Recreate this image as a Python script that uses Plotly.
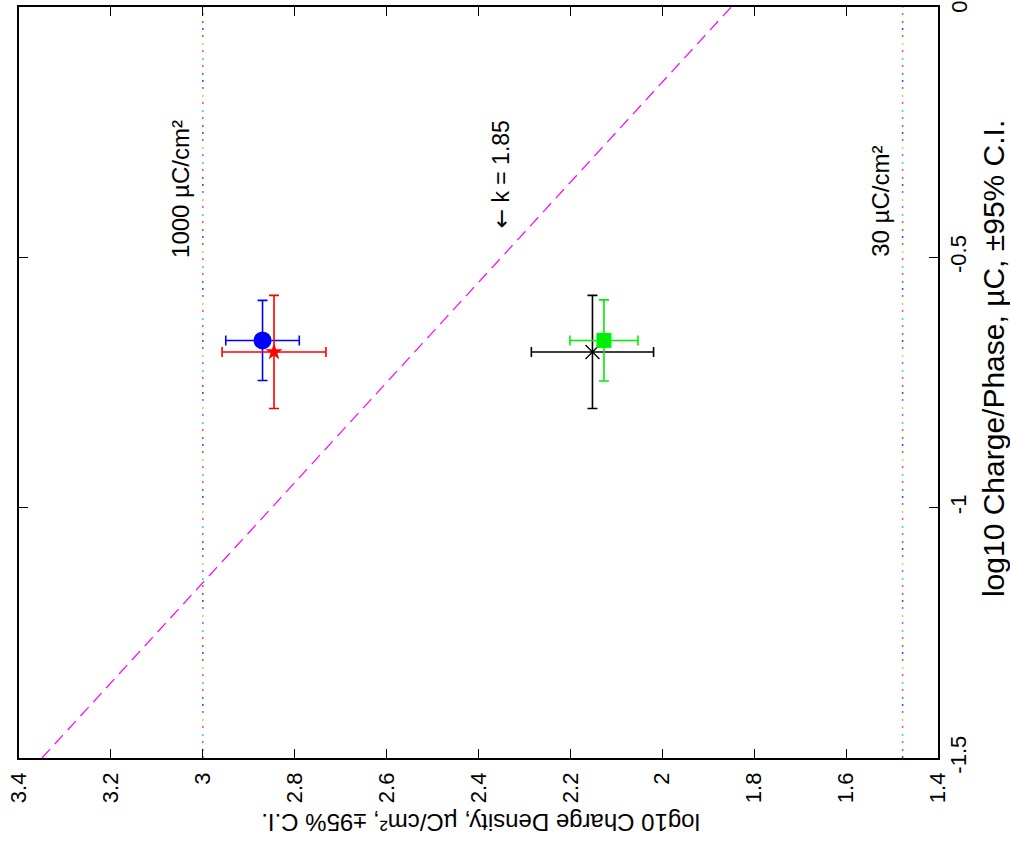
import plotly.graph_objects as go

# ---- data (original semantics: x = log10 charge/phase, y = log10 charge density) ----
series_names = ["blue", "red", "black", "green"]
series_colors = ["#0000ff", "#ff0000", "#000000", "#00ee00"]
series_symbols = ["circle", "star", "x-thin", "square"]
series_sizes = [18, 13, 14, 15]

charge_phase = [-0.666, -0.689, -0.689, -0.666]        # log10 µC
charge_phase_ci = [0.080, 0.113, 0.113, 0.081]
charge_density = [2.870, 2.845, 2.152, 2.127]          # log10 µC/cm²
charge_density_ci = [0.080, 0.113, 0.133, 0.074]

k_line_charge = [-1.5, 0.0]
k_line_density = [3.35, 1.85]

ref_density = [3.0, 1.477]
ref_labels = ["1000 µC/cm²", "30 µC/cm²"]
ref_charge = [-1.5, 0.0]

density_ticks = [3.4, 3.2, 3.0, 2.8, 2.6, 2.4, 2.2, 2.0, 1.8, 1.6, 1.4]
density_ticktext = ["3.4", "3.2", "3", "2.8", "2.6", "2.4", "2.2", "2", "1.8", "1.6", "1.4"]
charge_ticks = [-1.5, -1.0, -0.5, 0.0]
charge_ticktext = ["-1.5", "-1", "-0.5", "0"]

FONT = "Liberation Sans, Arial, Helvetica, sans-serif"

fig = go.Figure()

# multicolour dotted reference lines (MATLAB-like)
dot_colors = ["#4a4af0", "#3aa03a", "#f06060", "#40d8d8", "#e050e0", "#d8d840", "#808080"]
dot_offsets = [0, 7, 15, 22, 30, 37, 45]
period = 52
for xd in ref_density:
    for c, off in zip(dot_colors, dot_offsets):
        if off == 0:
            dash = f"2px,{period - 2}px"
        else:
            dash = f"0px,{off}px,2px,{period - off - 2}px"
        fig.add_trace(go.Scatter(
            x=[xd, xd], y=ref_charge, mode="lines",
            line=dict(color=c, width=1.6, dash=dash),
            hoverinfo="skip", showlegend=False))

# k line
fig.add_trace(go.Scatter(
    x=k_line_density, y=k_line_charge, mode="lines",
    line=dict(color="#ff00ff", width=1.2, dash="12px,7px"),
    hoverinfo="skip", showlegend=False))

# data points with 95% CI
for i, name in enumerate(series_names):
    col = series_colors[i]
    sym = series_symbols[i]
    marker = dict(symbol=sym, size=series_sizes[i], color=col)
    if sym == "x-thin":
        marker["line"] = dict(color=col, width=1.3)
    fig.add_trace(go.Scatter(
        x=[charge_density[i]], y=[charge_phase[i]], mode="markers", name=name,
        marker=marker,
        error_x=dict(type="data", array=[charge_density_ci[i]], color=col,
                     thickness=1.6, width=5),
        error_y=dict(type="data", array=[charge_phase_ci[i]], color=col,
                     thickness=1.6, width=5),
        showlegend=False))

annotations = [
    dict(x=3.047, y=-0.363, xref="x", yref="y", text=ref_labels[0], showarrow=False,
         textangle=-90, font=dict(family=FONT, size=24, color="black")),
    dict(x=1.524, y=-0.389, xref="x", yref="y", text=ref_labels[1], showarrow=False,
         textangle=-90, font=dict(family=FONT, size=24, color="black")),
    dict(x=2.352, y=-0.335, xref="x", yref="y",
         text='<span style="font-family:DejaVu Sans">←</span> k = 1.85', showarrow=False,
         textangle=-90, font=dict(family=FONT, size=23, color="black")),
    dict(x=0.5016, y=-0.085, xref="paper", yref="paper",
         text="log10 Charge Density, µC/cm², ±95% C.I.", showarrow=False,
         textangle=180, xanchor="center", yanchor="middle",
         font=dict(family=FONT, size=24, color="black")),
    dict(x=1.0598, y=0.5325, xref="paper", yref="paper",
         text="log10 Charge/Phase, µC, ±95% C.I.", showarrow=False,
         textangle=-90, xanchor="center", yanchor="middle",
         font=dict(family=FONT, size=30, color="black")),
    # top "0" tick label of the charge/phase axis (sits at the figure's top edge)
    dict(x=1.0225, y=1.0, xref="paper", yref="paper", text=charge_ticktext[-1],
         showarrow=False, textangle=-90, xanchor="center", yanchor="middle",
         font=dict(family=FONT, size=22, color="black")),
]

fig.update_layout(
    width=1010, height=854,
    margin=dict(l=19, r=72, t=5, b=96),
    paper_bgcolor="white", plot_bgcolor="white",
    font=dict(family=FONT, size=22, color="black"),
    annotations=annotations,
    xaxis=dict(range=[3.4, 1.4], tickvals=density_ticks, ticktext=density_ticktext,
               tickangle=-90, ticks="inside", ticklen=9, tickwidth=1, tickcolor="black",
               showline=True, linecolor="black", linewidth=1.5, mirror="ticks",
               showgrid=False, zeroline=False, ticklabelstandoff=4,
               tickfont=dict(family=FONT, size=22, color="black")),
    yaxis=dict(range=[-1.5, 0], side="right", tickvals=charge_ticks[:-1],
               ticktext=charge_ticktext[:-1],
               tickangle=-90, ticks="inside", ticklen=9, tickwidth=1, tickcolor="black",
               showline=True, linecolor="black", linewidth=1.5, mirror="ticks",
               showgrid=False, zeroline=False, ticklabelstandoff=0,
               tickfont=dict(family=FONT, size=22, color="black")),
)

fig.write_html("out.html")
